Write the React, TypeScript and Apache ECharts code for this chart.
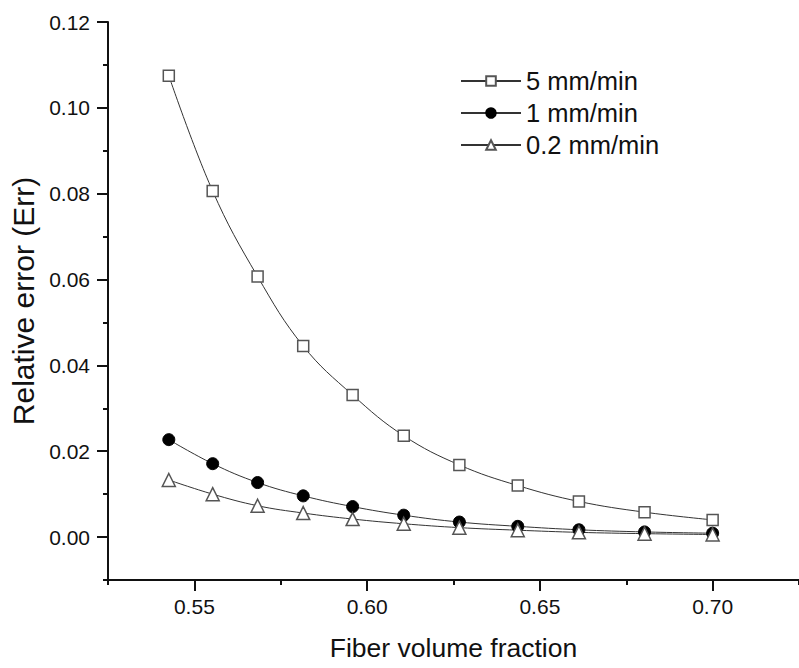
import React, { useEffect, useRef } from "react";
import * as echarts from "echarts";

const fiberFraction = [0.5426, 0.5553, 0.5683, 0.5815, 0.5958, 0.6106, 0.6267, 0.6436, 0.6613, 0.6803, 0.7];
const err5 = [0.1075, 0.0806, 0.0607, 0.0445, 0.0331, 0.0236, 0.0168, 0.0120, 0.0083, 0.0058, 0.0040];
const err1 = [0.0227, 0.0171, 0.0127, 0.0096, 0.0071, 0.0051, 0.0035, 0.0025, 0.0017, 0.0012, 0.0009];
const err02 = [0.0133, 0.0100, 0.0073, 0.0056, 0.0042, 0.0031, 0.0022, 0.0016, 0.0011, 0.0008, 0.0006];

const seriesNames = ["5 mm/min", "1 mm/min", "0.2 mm/min"];
const xMajorTicks = [0.55, 0.6, 0.65, 0.7];
const xMinorTicks = [0.525, 0.575, 0.625, 0.675, 0.725];
const yMajorTicks = [0, 0.02, 0.04, 0.06, 0.08, 0.1, 0.12];
const yMinorTicks = [-0.01, 0.01, 0.03, 0.05, 0.07, 0.09, 0.11];

const FONT = "Liberation Sans, Arial, sans-serif";

export default function App() {
  const ref = useRef<HTMLDivElement>(null);
  useEffect(() => {
    if (!ref.current) return;
    const chart = echarts.init(ref.current, undefined, { renderer: "svg" });
    const pair = (ys: number[]) => fiberFraction.map((x, i) => [x, ys[i]]);
    const lineStyle = { color: "#333", width: 1 };
    const xBase = { type: "value", min: 0.525, max: 0.725, splitLine: { show: false }, gridIndex: 0 };
    const yBase = { type: "value", min: -0.01, max: 0.12, splitLine: { show: false }, gridIndex: 0 };
    chart.setOption({
      animation: false,
      backgroundColor: "#fff",
      textStyle: { fontFamily: FONT },
      grid: { left: 108, right: 0, top: 22, bottom: 88, containLabel: false },
      legend: {
        orient: "vertical",
        left: 455,
        top: 63,
        itemWidth: 60,
        itemHeight: 12,
        itemGap: 6,
        textStyle: { fontFamily: FONT, fontSize: 25.5, color: "#111" },
        data: seriesNames,
      },
      xAxis: [
        {
          ...xBase,
          name: "Fiber volume fraction",
          nameLocation: "middle",
          nameGap: 54,
          nameTextStyle: { fontFamily: FONT, fontSize: 26.5, color: "#111" },
          axisLine: { show: true, onZero: false, lineStyle: { color: "#111", width: 2 } },
          axisTick: { show: true, length: 11, inside: false, customValues: xMajorTicks, lineStyle: { color: "#111", width: 2 } },
          axisLabel: { show: true, customValues: xMajorTicks, margin: 16, fontFamily: FONT, fontSize: 21, color: "#111", formatter: (v: number) => v.toFixed(2) },
        },
        {
          ...xBase,
          axisLine: { show: false, onZero: false },
          axisTick: { show: true, length: 5, inside: false, customValues: xMinorTicks, lineStyle: { color: "#111", width: 2 } },
          axisLabel: { show: false },
          position: "bottom",
        },
      ],
      yAxis: [
        {
          ...yBase,
          name: "Relative error (Err)",
          nameLocation: "middle",
          nameGap: 70,
          nameTextStyle: { fontFamily: FONT, fontSize: 30, color: "#111" },
          axisLine: { show: true, onZero: false, lineStyle: { color: "#111", width: 2 } },
          axisTick: { show: true, length: 11, inside: false, customValues: yMajorTicks, lineStyle: { color: "#111", width: 2 } },
          axisLabel: { show: true, customValues: yMajorTicks, margin: 18, fontFamily: FONT, fontSize: 21, color: "#111", formatter: (v: number) => v.toFixed(2) },
        },
        {
          ...yBase,
          axisLine: { show: false, onZero: false },
          axisTick: { show: true, length: 5, inside: false, customValues: yMinorTicks, lineStyle: { color: "#111", width: 2 } },
          axisLabel: { show: false },
          position: "left",
        },
      ],
      series: [
        {
          name: seriesNames[0],
          type: "line",
          data: pair(err5),
          smooth: 0.4,
          symbol: "rect",
          symbolSize: 11,
          lineStyle,
          itemStyle: { color: "#fff", borderColor: "#555", borderWidth: 1.5 },
        },
        {
          name: seriesNames[1],
          type: "line",
          data: pair(err1),
          smooth: 0.4,
          symbol: "circle",
          symbolSize: 12,
          lineStyle,
          itemStyle: { color: "#000", borderColor: "#000", borderWidth: 1 },
        },
        {
          name: seriesNames[2],
          type: "line",
          data: pair(err02),
          smooth: 0.4,
          symbol: "triangle",
          symbolSize: 13,
          lineStyle,
          itemStyle: { color: "#fff", borderColor: "#555", borderWidth: 1.5 },
        },
      ],
    });
    return () => chart.dispose();
  }, []);
  return <div ref={ref} style={{ width: 799, height: 668, position: "absolute", left: 0, top: 0 }} />;
}
